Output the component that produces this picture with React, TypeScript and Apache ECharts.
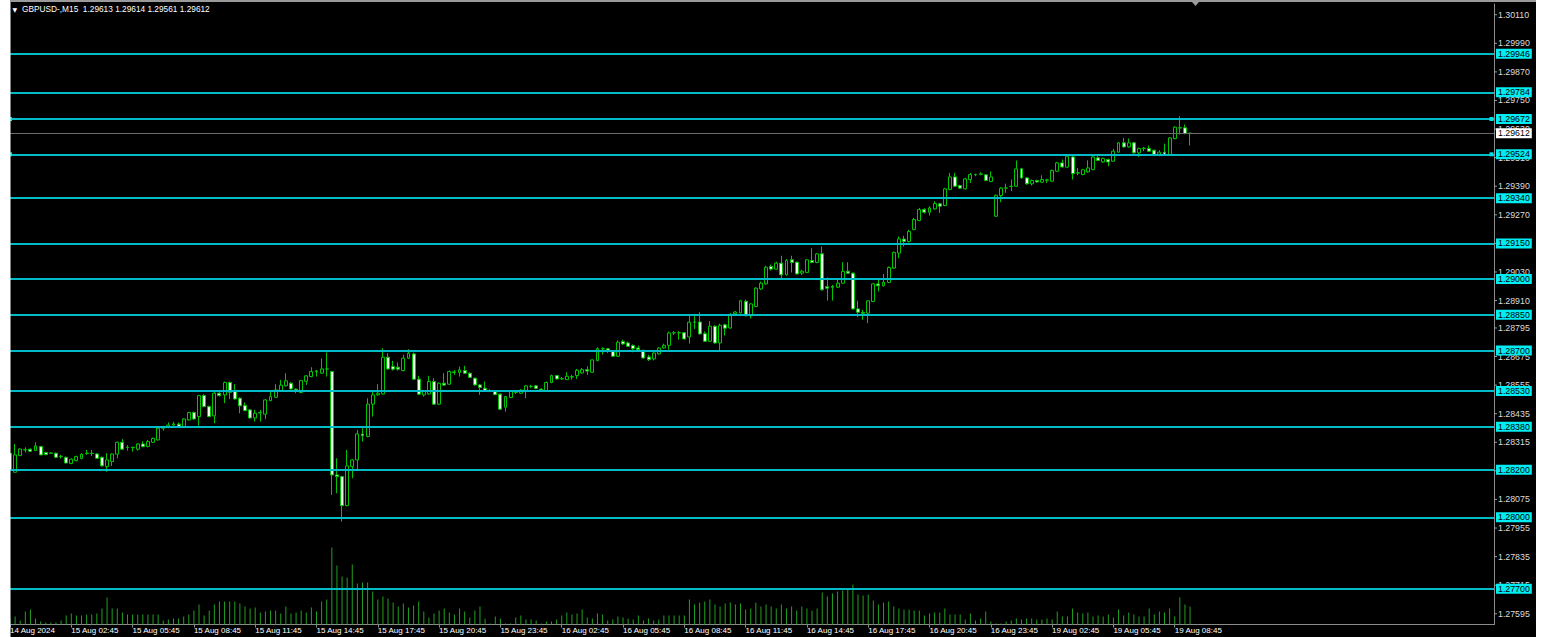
import React, { useEffect, useRef } from "react";
import * as echarts from "echarts";

const symbolTitle = "GBPUSD-,M15";

const tickLabels = [
  "14 Aug 2024", "15 Aug 02:45", "15 Aug 05:45", "15 Aug 08:45", "15 Aug 11:45",
  "15 Aug 14:45", "15 Aug 17:45", "15 Aug 20:45", "15 Aug 23:45", "16 Aug 02:45",
  "16 Aug 05:45", "16 Aug 08:45", "16 Aug 11:45", "16 Aug 14:45", "16 Aug 17:45",
  "16 Aug 20:45", "16 Aug 23:45", "19 Aug 02:45", "19 Aug 05:45", "19 Aug 08:45",
];

const opens = [
  1.28269,1.28189,1.28259,1.28283,1.28286,1.28280,1.28297,1.28272,1.28270,1.28269,
  1.28256,1.28252,1.28226,1.28238,1.28247,1.28268,1.28269,1.28266,1.28252,1.28213,
  1.28234,1.28265,1.28315,1.28294,1.28294,1.28286,1.28308,1.28297,1.28315,1.28325,
  1.28374,1.28381,1.28387,1.28391,1.28381,1.28409,1.28440,1.28423,1.28511,1.28465,
  1.28426,1.28521,1.28514,1.28566,1.28528,1.28500,1.28469,1.28451,1.28417,1.28438,
  1.28433,1.28490,1.28504,1.28532,1.28552,1.28563,1.28538,1.28524,1.28571,1.28591,
  1.28612,1.28605,1.28622,1.28612,1.28178,1.28171,1.28049,1.28213,1.28241,1.28350,
  1.28339,1.28475,1.28514,1.28518,1.28672,1.28633,1.28630,1.28616,1.28668,1.28686,
  1.28580,1.28514,1.28518,1.28570,1.28475,1.28563,1.28559,1.28608,1.28608,1.28616,
  1.28605,1.28584,1.28556,1.28542,1.28532,1.28529,1.28517,1.28462,1.28503,1.28524,
  1.28521,1.28528,1.28549,1.28552,1.28538,1.28531,1.28566,1.28595,1.28582,1.28578,
  1.28590,1.28595,1.28606,1.28620,1.28609,1.28658,1.28707,1.28708,1.28698,1.28676,
  1.28738,1.28732,1.28721,1.28711,1.28701,1.28673,1.28665,1.28686,1.28711,1.28722,
  1.28774,1.28774,1.28775,1.28757,1.28819,1.28820,1.28771,1.28739,1.28802,1.28732,
  1.28808,1.28795,1.28855,1.28858,1.28907,1.28846,1.28885,1.28959,1.28980,1.29053,
  1.29042,1.29067,1.29018,1.29081,1.29071,1.29025,1.29028,1.29078,1.29070,1.29106,
  1.28968,1.28969,1.28966,1.28983,1.29033,1.29025,1.28875,1.28860,1.28857,1.28906,
  1.28980,1.28972,1.28986,1.29046,1.29109,1.29168,1.29158,1.29208,1.29246,1.29292,
  1.29281,1.29295,1.29316,1.29309,1.29376,1.29429,1.29393,1.29379,1.29418,1.29438,
  1.29440,1.29438,1.29410,1.29264,1.29351,1.29382,1.29389,1.29390,1.29463,1.29425,
  1.29400,1.29414,1.29407,1.29415,1.29411,1.29453,1.29488,1.29470,1.29513,1.29445,
  1.29439,1.29450,1.29460,1.29509,1.29492,1.29502,1.29495,1.29533,1.29572,1.29555,
  1.29572,1.29530,1.29548,1.29548,1.29541,1.29524,1.29533,1.29523,1.29590,1.29634,
  1.29635,1.29613,
];

const highs = [
  1.28276,1.28308,1.28290,1.28294,1.28289,1.28315,1.28300,1.28275,1.28272,1.28272,
  1.28262,1.28255,1.28248,1.28259,1.28269,1.28283,1.28283,1.28269,1.28255,1.28269,
  1.28269,1.28318,1.28328,1.28303,1.28297,1.28311,1.28319,1.28325,1.28335,1.28377,
  1.28384,1.28398,1.28401,1.28398,1.28416,1.28443,1.28444,1.28514,1.28517,1.28469,
  1.28527,1.28525,1.28570,1.28570,1.28559,1.28504,1.28482,1.28455,1.28451,1.28451,
  1.28496,1.28535,1.28559,1.28577,1.28605,1.28567,1.28541,1.28577,1.28597,1.28630,
  1.28619,1.28667,1.28692,1.28615,1.28248,1.28174,1.28283,1.28244,1.28367,1.28374,
  1.28500,1.28535,1.28559,1.28710,1.28689,1.28657,1.28650,1.28682,1.28706,1.28692,
  1.28594,1.28535,1.28594,1.28584,1.28566,1.28605,1.28616,1.28619,1.28633,1.28636,
  1.28608,1.28587,1.28559,1.28570,1.28538,1.28532,1.28521,1.28510,1.28535,1.28535,
  1.28538,1.28556,1.28556,1.28556,1.28542,1.28570,1.28599,1.28598,1.28589,1.28609,
  1.28598,1.28623,1.28627,1.28634,1.28663,1.28714,1.28714,1.28711,1.28701,1.28743,
  1.28746,1.28738,1.28726,1.28721,1.28704,1.28682,1.28693,1.28714,1.28729,1.28780,
  1.28782,1.28782,1.28778,1.28847,1.28844,1.28861,1.28780,1.28824,1.28806,1.28813,
  1.28813,1.28858,1.28866,1.28913,1.28914,1.28900,1.28966,1.28990,1.29056,1.29061,
  1.29073,1.29098,1.29084,1.29098,1.29074,1.29039,1.29084,1.29130,1.29109,1.29137,
  1.29007,1.28976,1.28997,1.29071,1.29071,1.29028,1.28909,1.28871,1.28912,1.28983,
  1.29000,1.29022,1.29053,1.29116,1.29179,1.29182,1.29207,1.29257,1.29299,1.29298,
  1.29306,1.29327,1.29320,1.29383,1.29446,1.29446,1.29396,1.29425,1.29446,1.29443,
  1.29449,1.29440,1.29452,1.29355,1.29386,1.29401,1.29418,1.29498,1.29467,1.29428,
  1.29418,1.29417,1.29436,1.29421,1.29460,1.29492,1.29502,1.29520,1.29519,1.29467,
  1.29463,1.29499,1.29519,1.29516,1.29510,1.29506,1.29547,1.29576,1.29593,1.29590,
  1.29576,1.29552,1.29555,1.29561,1.29544,1.29541,1.29569,1.29596,1.29642,1.29684,
  1.29649,1.29614,
];

const lows = [
  1.28196,1.28189,1.28258,1.28272,1.28275,1.28279,1.28261,1.28261,1.28268,1.28249,
  1.28247,1.28227,1.28223,1.28235,1.28244,1.28262,1.28258,1.28245,1.28213,1.28191,
  1.28216,1.28248,1.28283,1.28280,1.28276,1.28280,1.28294,1.28294,1.28312,1.28322,
  1.28364,1.28374,1.28384,1.28378,1.28378,1.28406,1.28409,1.28385,1.28462,1.28420,
  1.28395,1.28507,1.28479,1.28496,1.28494,1.28437,1.28445,1.28415,1.28402,1.28402,
  1.28412,1.28487,1.28501,1.28529,1.28549,1.28536,1.28521,1.28521,1.28556,1.28588,
  1.28591,1.28602,1.28591,1.28094,1.28101,1.27982,1.28046,1.28164,1.28199,1.28318,
  1.28336,1.28423,1.28511,1.28515,1.28620,1.28616,1.28616,1.28613,1.28664,1.28577,
  1.28513,1.28507,1.28515,1.28472,1.28472,1.28552,1.28556,1.28598,1.28591,1.28602,
  1.28584,1.28553,1.28514,1.28529,1.28527,1.28513,1.28451,1.28444,1.28500,1.28518,
  1.28518,1.28500,1.28542,1.28538,1.28529,1.28528,1.28563,1.28578,1.28578,1.28578,
  1.28578,1.28581,1.28603,1.28598,1.28606,1.28655,1.28683,1.28690,1.28673,1.28673,
  1.28724,1.28715,1.28693,1.28698,1.28666,1.28656,1.28659,1.28683,1.28708,1.28704,
  1.28766,1.28746,1.28746,1.28729,1.28791,1.28767,1.28736,1.28736,1.28729,1.28697,
  1.28763,1.28792,1.28851,1.28855,1.28844,1.28835,1.28882,1.28955,1.28976,1.29036,
  1.29039,1.29000,1.29015,1.29028,1.29019,1.29017,1.29025,1.29067,1.29067,1.28952,
  1.28910,1.28910,1.28963,1.28980,1.29022,1.28872,1.28840,1.28829,1.28815,1.28903,
  1.28948,1.28969,1.28983,1.29043,1.29088,1.29137,1.29154,1.29205,1.29243,1.29275,
  1.29267,1.29292,1.29278,1.29306,1.29373,1.29387,1.29379,1.29376,1.29404,1.29432,
  1.29436,1.29411,1.29407,1.29261,1.29323,1.29362,1.29369,1.29387,1.29422,1.29397,
  1.29393,1.29405,1.29404,1.29404,1.29408,1.29450,1.29468,1.29467,1.29418,1.29436,
  1.29436,1.29447,1.29457,1.29495,1.29488,1.29474,1.29492,1.29530,1.29552,1.29552,
  1.29527,1.29513,1.29537,1.29534,1.29516,1.29516,1.29520,1.29520,1.29587,1.29607,
  1.29608,1.29561,
];

const closes = [
  1.28199,1.28262,1.28287,1.28284,1.28277,1.28300,1.28262,1.28263,1.28269,1.28252,
  1.28255,1.28228,1.28244,1.28255,1.28265,1.28269,1.28268,1.28248,1.28216,1.28241,
  1.28266,1.28315,1.28286,1.28293,1.28293,1.28308,1.28297,1.28318,1.28331,1.28374,
  1.28377,1.28387,1.28392,1.28381,1.28413,1.28440,1.28413,1.28511,1.28465,1.28423,
  1.28521,1.28511,1.28566,1.28525,1.28497,1.28468,1.28448,1.28417,1.28437,1.28440,
  1.28493,1.28507,1.28535,1.28555,1.28573,1.28539,1.28532,1.28574,1.28594,1.28612,
  1.28615,1.28623,1.28623,1.28178,1.28171,1.28049,1.28216,1.28241,1.28350,1.28342,
  1.28475,1.28514,1.28521,1.28672,1.28623,1.28622,1.28622,1.28668,1.28689,1.28580,
  1.28517,1.28528,1.28570,1.28475,1.28563,1.28555,1.28612,1.28611,1.28619,1.28605,
  1.28587,1.28556,1.28545,1.28532,1.28531,1.28515,1.28454,1.28507,1.28531,1.28529,
  1.28534,1.28552,1.28550,1.28541,1.28534,1.28566,1.28595,1.28581,1.28581,1.28592,
  1.28589,1.28617,1.28620,1.28614,1.28661,1.28708,1.28708,1.28696,1.28676,1.28735,
  1.28728,1.28718,1.28708,1.28704,1.28669,1.28662,1.28690,1.28711,1.28722,1.28774,
  1.28775,1.28775,1.28749,1.28819,1.28820,1.28770,1.28739,1.28802,1.28732,1.28806,
  1.28794,1.28852,1.28862,1.28909,1.28846,1.28896,1.28962,1.28983,1.29050,1.29042,
  1.29067,1.29018,1.29078,1.29070,1.29022,1.29033,1.29081,1.29070,1.29106,1.28955,
  1.28962,1.28966,1.28983,1.29032,1.29025,1.28875,1.28861,1.28857,1.28909,1.28980,
  1.28972,1.28987,1.29049,1.29112,1.29169,1.29158,1.29200,1.29250,1.29292,1.29281,
  1.29299,1.29317,1.29306,1.29379,1.29429,1.29390,1.29382,1.29421,1.29439,1.29439,
  1.29442,1.29414,1.29429,1.29352,1.29382,1.29383,1.29390,1.29463,1.29425,1.29400,
  1.29414,1.29408,1.29418,1.29417,1.29456,1.29488,1.29471,1.29516,1.29443,1.29447,
  1.29459,1.29467,1.29513,1.29498,1.29506,1.29492,1.29537,1.29572,1.29555,1.29572,
  1.29530,1.29548,1.29550,1.29537,1.29523,1.29533,1.29523,1.29593,1.29638,1.29636,
  1.29611,1.29612,
];

const volumes = [
  120,160,80,260,300,120,60,40,40,40,
  80,180,220,180,180,200,200,220,320,540,
  320,320,240,200,200,200,200,200,200,200,
  80,100,120,120,160,200,280,400,180,280,
  400,460,460,460,460,420,360,320,340,240,
  260,280,280,220,360,220,240,280,240,340,
  260,460,500,1540,1180,960,940,1200,820,840,
  840,660,500,560,520,440,360,420,340,380,
  460,260,140,220,280,320,240,200,320,260,
  140,280,360,120,20,160,120,20,20,140,
  180,100,100,80,20,60,60,100,180,240,
  200,220,300,140,120,220,200,80,100,160,
  140,120,100,180,80,120,80,100,180,180,
  180,180,180,500,400,440,460,500,400,360,
  420,440,400,420,300,320,440,360,400,360,
  320,400,320,360,280,360,320,280,320,640,
  560,620,660,680,720,800,600,580,600,480,
  400,440,460,360,320,300,300,280,280,180,
  220,240,240,320,200,200,200,100,220,80,
  120,260,60,20,20,60,80,120,100,120,
  120,100,100,120,100,260,160,160,320,240,
  220,240,160,180,160,200,140,300,180,240,
  200,160,160,320,200,260,240,320,160,540,
  400,360,
];

const levelLines = [
  1.29946, 1.29784, 1.29672, 1.29524, 1.2934, 1.2915, 1.29, 1.2885,
  1.287, 1.2853, 1.2838, 1.282, 1.28, 1.277,
];
const selectedLevels = [1.29672, 1.29524];

const priceLabels = [
  1.3011, 1.2999, 1.2987, 1.2975, 1.2963, 1.2951, 1.2939, 1.2927, 1.2915, 1.2903,
  1.2891, 1.28795, 1.28675, 1.28555, 1.28435, 1.28315, 1.28195, 1.28075, 1.27955,
  1.27835, 1.27715, 1.27595,
];

const PRICE_MIN = 1.2755;
const PRICE_MAX = 1.30155;
const SLOTS = 291;

export default function App() {
  const ref = useRef<HTMLDivElement>(null);

  useEffect(() => {
    if (!ref.current) return;
    const chart = echarts.init(ref.current, null, { renderer: "svg" });
    const FONT = "Liberation Sans";
    const cats = Array.from({ length: SLOTS }, (_, i) => String(i));
    const last = closes.length - 1;
    const fmt = (v: number) => v.toFixed(5);
    const labelSet = new Set(priceLabels.map((v) => Math.round(v * 1e5)));
    const showTick = (i: number) => i % 12 === 0 && i / 12 < tickLabels.length;

    const candleData = opens.map((o, i) => [o, closes[i], lows[i], highs[i]]);

    const tagLabel = (bg: string) => ({
      show: true,
      position: "end",
      distance: 2,
      color: "#000000",
      backgroundColor: bg,
      padding: [1, 2, 0, 2],
      fontSize: 8.8,
      lineHeight: 9,
      fontFamily: FONT,
    });

    const markData: any[] = levelLines.map((v) => ({
      yAxis: v,
      lineStyle: { color: "#00BCC6", width: 2, type: "solid" },
      label: { ...tagLabel("#00EEF3"), formatter: fmt(v) },
    }));
    markData.push({
      yAxis: closes[last],
      lineStyle: { color: "#6a6a6a", width: 1, type: "solid" },
      label: { ...tagLabel("#FFFFFF"), formatter: fmt(closes[last]) },
    });

    const selMarkers: any[] = [];
    selectedLevels.forEach((v) => {
      selMarkers.push({ coord: [0, v] });
      selMarkers.push({ coord: [SLOTS - 1, v] });
    });

    const header =
      symbolTitle +
      "  " +
      [opens[last], highs[last], lows[last], closes[last]].map(fmt).join(" ");

    const option: any = {
      animation: false,
      backgroundColor: "#000000",
      textStyle: { fontFamily: FONT },
      grid: [
        { left: 7.45, top: 4, width: 1486.55, height: 620.5 },
        { left: 7.45, top: 524.5, width: 1486.55, height: 100 },
      ],
      xAxis: [
        {
          type: "category",
          gridIndex: 0,
          data: cats,
          boundaryGap: true,
          axisLine: { show: true, onZero: false, lineStyle: { color: "#8c8c8c", width: 1 } },
          axisTick: {
            show: true,
            alignWithLabel: true,
            interval: (i: number) => showTick(i),
            length: 3,
            lineStyle: { color: "#8c8c8c" },
          },
          axisLabel: {
            show: true,
            interval: (i: number) => showTick(i),
            formatter: (_v: string, i: number) => tickLabels[i / 12] ?? "",
            color: "#FFFFFF",
            fontSize: 8,
            fontFamily: FONT,
            align: "left",
            margin: 2,
          },
          splitLine: { show: false },
        },
        { type: "category", gridIndex: 1, data: cats, show: false, boundaryGap: true },
      ],
      yAxis: [
        {
          type: "value",
          gridIndex: 0,
          position: "right",
          min: PRICE_MIN,
          max: PRICE_MAX,
          interval: 0.00005,
          axisLine: { show: true, lineStyle: { color: "#8c8c8c", width: 1 } },
          axisTick: { show: false },
          splitLine: { show: false },
          axisLabel: {
            formatter: (v: number) => (labelSet.has(Math.round(v * 1e5)) ? v.toFixed(5) : ""),
            color: "#DCDCDC",
            fontSize: 8.8,
            fontFamily: FONT,
            margin: 4,
          },
        },
        { type: "value", gridIndex: 1, min: 0, max: 2000, show: false },
      ],
      series: [
        {
          type: "bar",
          name: "Volume",
          xAxisIndex: 1,
          yAxisIndex: 1,
          data: volumes,
          barWidth: 1,
          silent: true,
          z: 1,
          itemStyle: { color: "#20A020" },
        },
        {
          type: "custom",
          name: "priceTicks",
          xAxisIndex: 0,
          yAxisIndex: 0,
          clip: false,
          silent: true,
          z: 1,
          data: priceLabels.map((v) => [0, v]),
          encode: { x: 0, y: 1 },
          renderItem: (params: any, api: any) => {
            const pt = api.coord([api.value(0), api.value(1)]);
            const cs = params.coordSys;
            const x = cs.x + cs.width;
            return {
              type: "line",
              shape: { x1: x, y1: pt[1], x2: x + 3, y2: pt[1] },
              style: { stroke: "#9a9a9a", lineWidth: 1 },
            };
          },
        },
        {
          type: "candlestick",
          name: "GBPUSD",
          xAxisIndex: 0,
          yAxisIndex: 0,
          data: candleData,
          barWidth: 3.4,
          z: 3,
          itemStyle: {
            color: "#000000",
            color0: "#F0FFF0",
            borderColor: "#00C400",
            borderColor0: "#00C400",
            borderWidth: 1,
          },
          markLine: {
            silent: true,
            animation: false,
            precision: 5,
            symbol: ["none", "none"],
            data: markData,
          },
          markPoint: {
            silent: true,
            animation: false,
            symbol: "rect",
            symbolSize: 4,
            itemStyle: { color: "#00E0E8" },
            label: { show: false },
            data: selMarkers,
          },
        },
      ],
      graphic: [
        { type: "rect", z: 100, shape: { x: 0, y: 0, width: 10.5, height: 637 }, style: { fill: "#FFFFFF" } },
        { type: "rect", z: 100, shape: { x: 1536, y: 0, width: 6, height: 637 }, style: { fill: "#FFFFFF" } },
        { type: "rect", z: 100, shape: { x: 10.5, y: 0, width: 1525.5, height: 2 }, style: { fill: "#9a9a9a" } },
        { type: "polygon", z: 100, shape: { points: [[1192, 2], [1199, 2], [1195.5, 6]] }, style: { fill: "#9a9a9a" } },
        {
          type: "text",
          z: 100,
          x: 12.5,
          y: 9,
          style: { text: "▼", fontSize: 6, fill: "#FFFFFF", verticalAlign: "middle", fontFamily: "DejaVu Sans" },
        },
        {
          type: "text",
          z: 100,
          x: 22,
          y: 9,
          style: { text: header, fontSize: 8.3, fill: "#FFFFFF", verticalAlign: "middle", fontFamily: FONT },
        },
      ],
    };

    chart.setOption(option);
    return () => chart.dispose();
  }, []);

  return (
    <div
      ref={ref}
      style={{ position: "fixed", left: 0, top: 0, width: 1542, height: 637 }}
    />
  );
}
